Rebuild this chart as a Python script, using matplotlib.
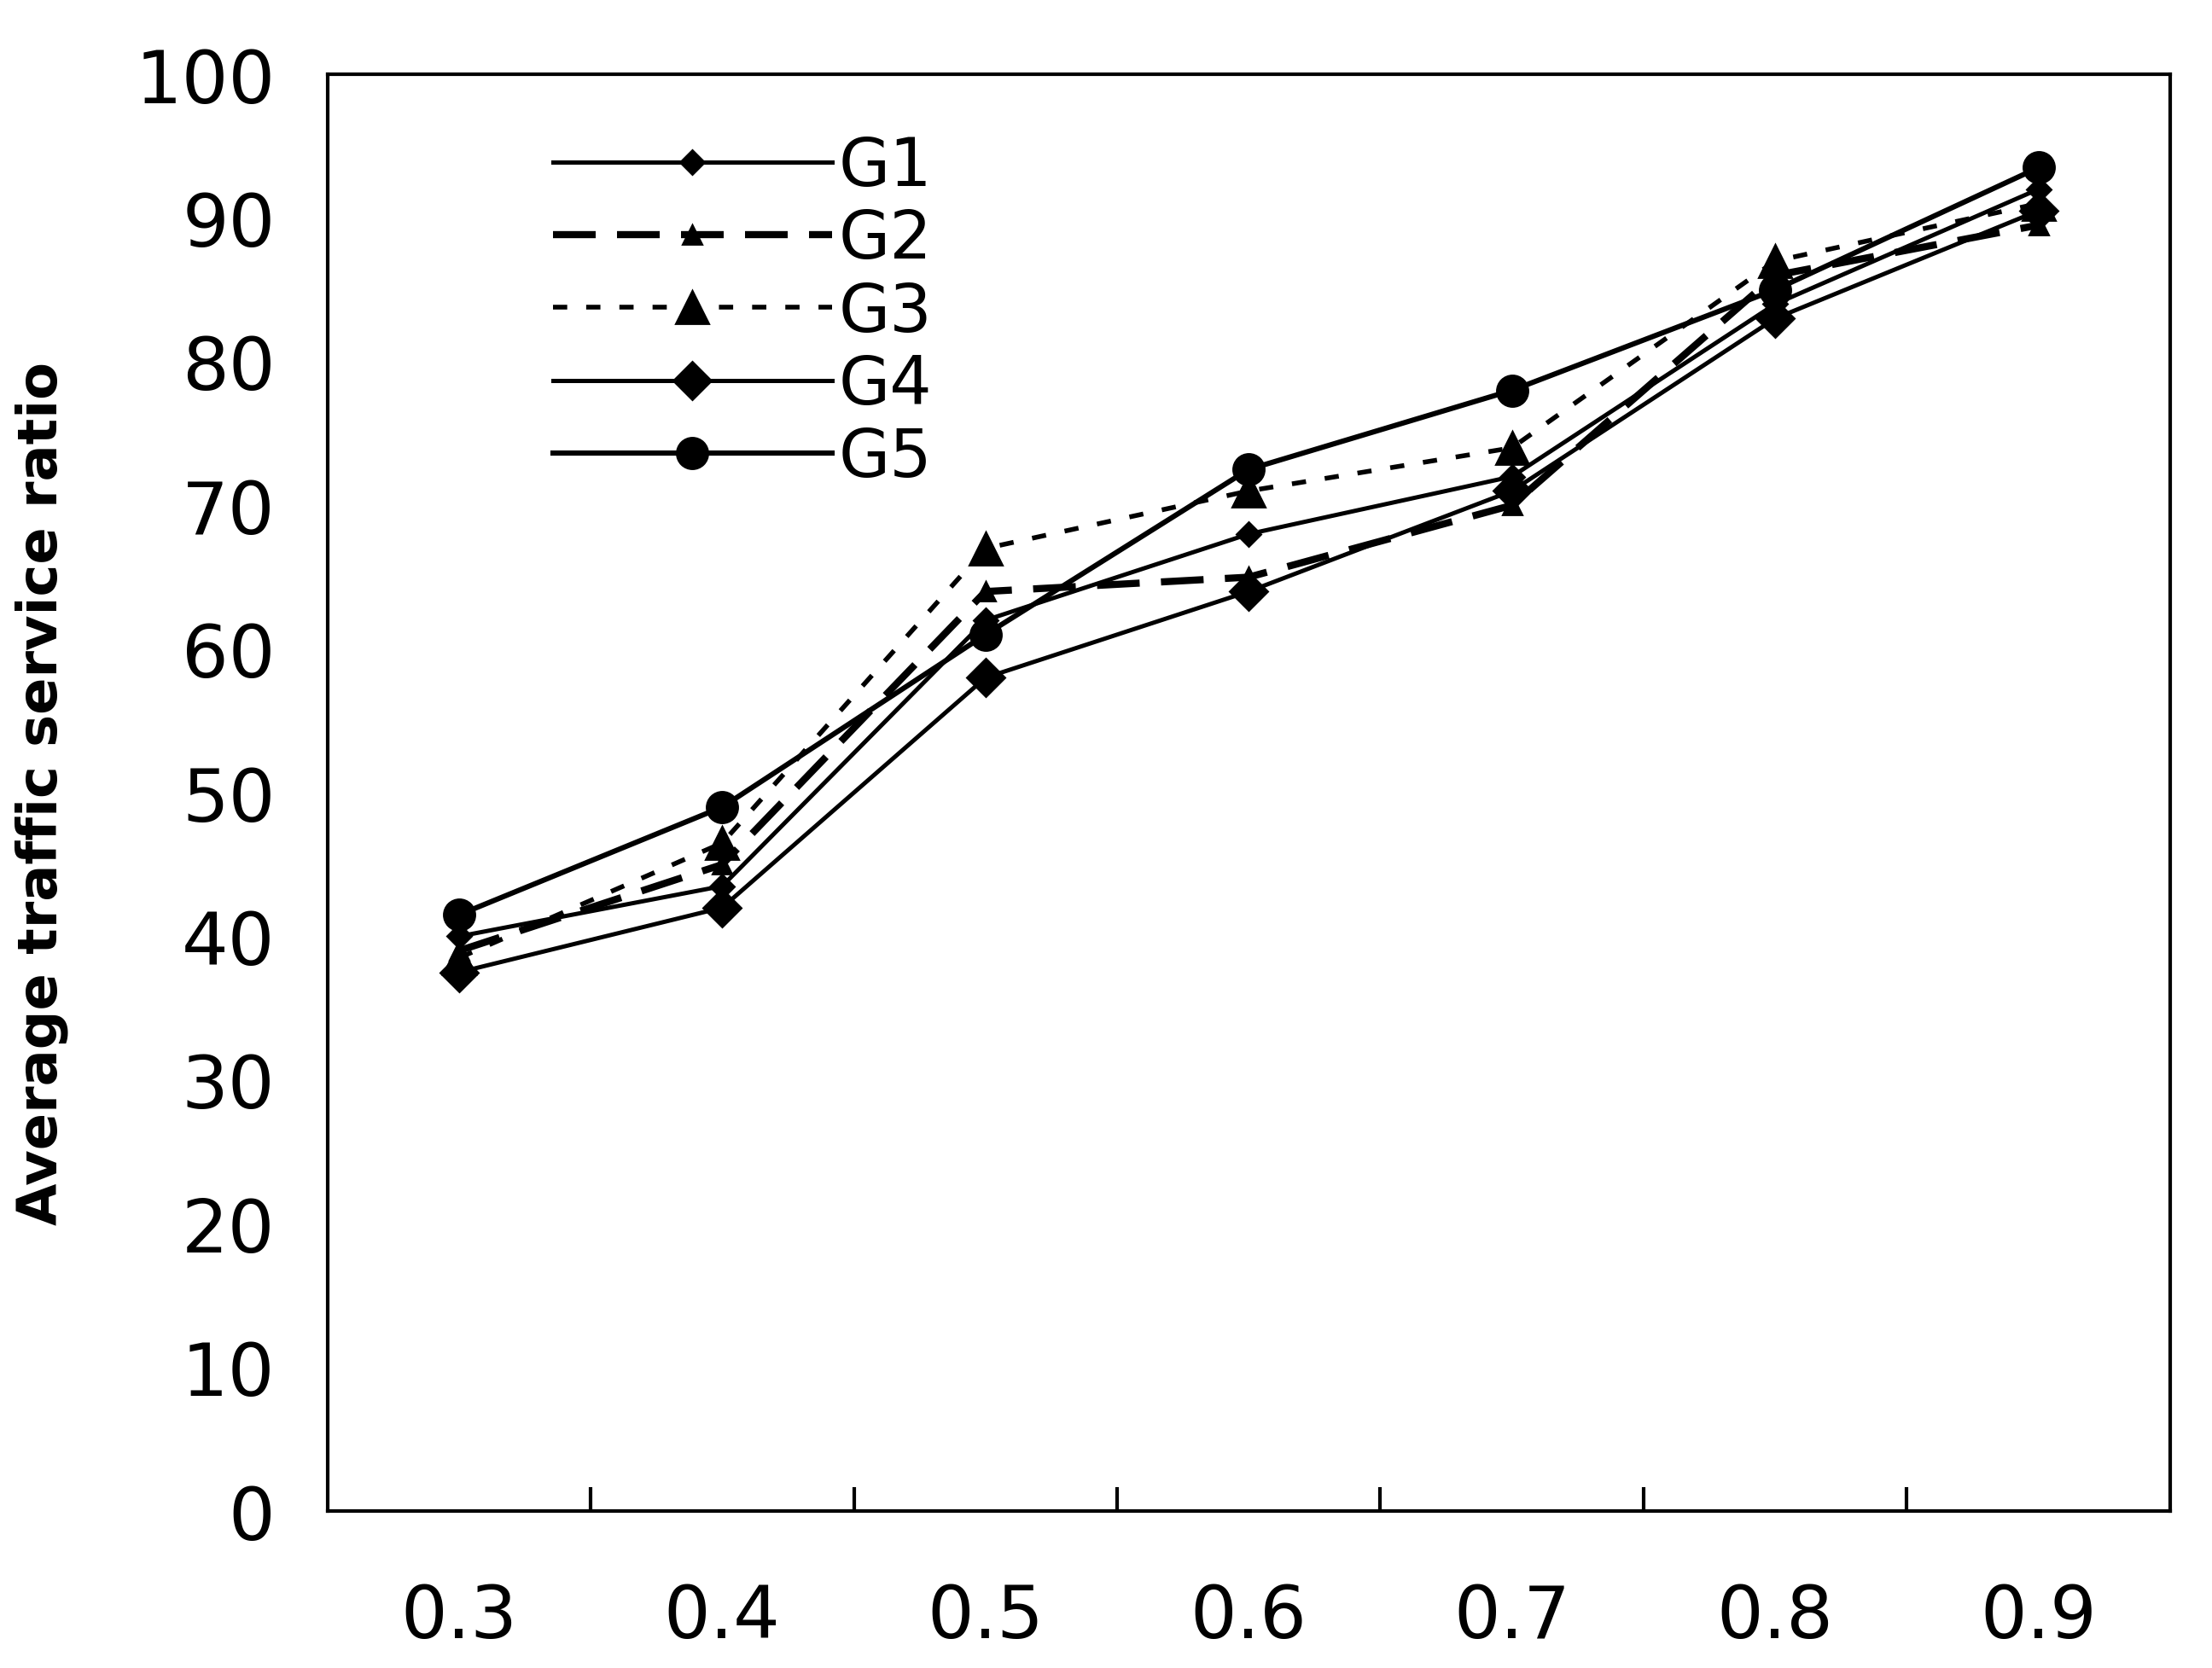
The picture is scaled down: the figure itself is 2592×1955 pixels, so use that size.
import numpy as np
import matplotlib
matplotlib.use('Agg')
import matplotlib.pyplot as plt

categories = ['0.3', '0.4', '0.5', '0.6', '0.7', '0.8', '0.9']
g1 = [40, 43.5, 62, 68, 72, 84, 92]
g2 = [39, 45, 64, 65, 70, 86, 89.5]
g3 = [38.5, 46.5, 67, 71, 74, 87, 91]
g4 = [37.5, 42, 58, 64, 71, 83, 90.5]
g5 = [41.5, 49, 61, 72.5, 78, 85, 93.5]

fig = plt.figure(figsize=(12.96, 9.78), dpi=200)
ax = fig.add_axes([0.148, 0.094, 0.833, 0.861])

x = np.arange(len(categories))
ax.plot(x, g1, '-', color='k', lw=1.8, marker='D', ms=7, label='G1')
ax.plot(x, g2, color='k', lw=3, ls=(0, (6, 3)), marker='^', ms=8, label='G2')
ax.plot(x, g3, color='k', lw=2, ls=(0, (3, 4)), marker='^', ms=14, label='G3')
ax.plot(x, g4, '-', color='k', lw=1.8, marker='D', ms=11, label='G4')
ax.plot(x, g5, '-', color='k', lw=2.2, marker='o', ms=13, label='G5')

ax.set_xlim(-0.5, len(categories) - 0.5)
ax.set_ylim(0, 100)
ax.set_yticks(np.arange(0, 101, 10))
ax.set_xticks(x)
ax.set_xticklabels(categories)
ax.set_xticks(np.arange(0.5, len(categories) - 1, 1), minor=True)
ax.tick_params(axis='x', which='major', length=0, pad=30, labelsize=31)
ax.tick_params(axis='x', which='minor', direction='in', length=10, width=1.5)
ax.tick_params(axis='y', direction='in', length=0, pad=22, labelsize=31)
for s in ax.spines.values():
    s.set_linewidth(1.5)

ax.set_ylabel('Average traffic service ratio', fontsize=23, fontweight='bold', labelpad=28)

ax.legend(loc='upper left', bbox_to_anchor=(0.09, 1.0), frameon=False, fontsize=28,
          handlelength=4.2, handletextpad=0.1, labelspacing=0.12)

fig.savefig('out.png')
